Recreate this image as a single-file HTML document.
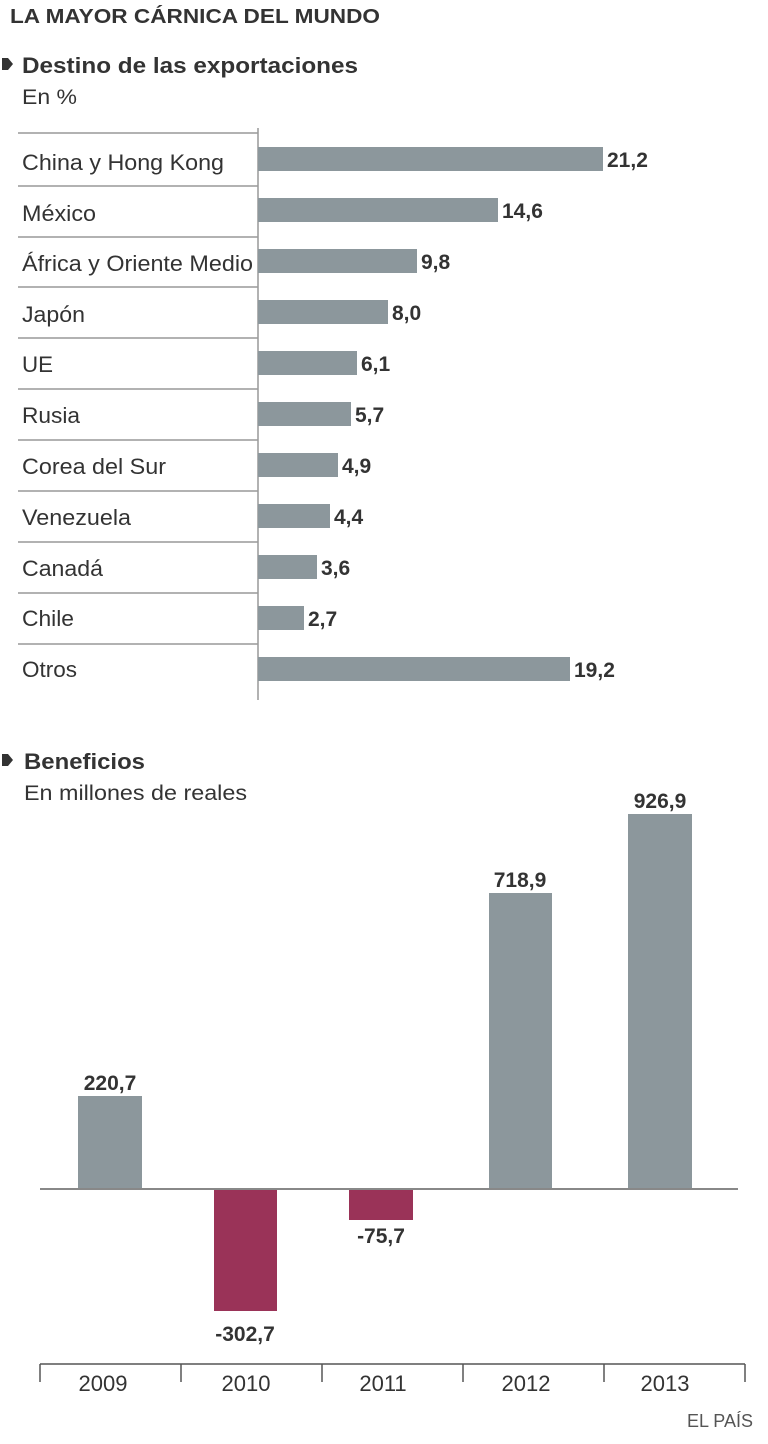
<!DOCTYPE html>
<html><head><meta charset="utf-8"><style>
body{margin:0;background:#fff;width:768px;height:1439px;overflow:hidden;font-family:"Liberation Sans",sans-serif;color:#333}
</style></head><body>
<svg width="768" height="1439" xmlns="http://www.w3.org/2000/svg" font-family="Liberation Sans, sans-serif">
<text x="10" y="23" font-size="20" font-weight="bold" fill="#333" textLength="370" lengthAdjust="spacingAndGlyphs">LA MAYOR CÁRNICA DEL MUNDO</text>
<path d="M2,58 h6 l5,6 l-5,6 h-6 z" fill="#333"/>
<text x="22" y="73" font-size="22" font-weight="bold" fill="#333" textLength="336" lengthAdjust="spacingAndGlyphs">Destino de las exportaciones</text>
<text x="22" y="104" font-size="21" fill="#333" textLength="55" lengthAdjust="spacingAndGlyphs">En %</text>
<g stroke="#999" stroke-width="1.5">
<line x1="18" y1="133" x2="258" y2="133"/>
<line x1="18" y1="186" x2="258" y2="186"/><line x1="18" y1="237" x2="258" y2="237"/>
<line x1="18" y1="287" x2="258" y2="287"/><line x1="18" y1="338" x2="258" y2="338"/>
<line x1="18" y1="389" x2="258" y2="389"/><line x1="18" y1="440" x2="258" y2="440"/>
<line x1="18" y1="491" x2="258" y2="491"/><line x1="18" y1="542" x2="258" y2="542"/>
<line x1="18" y1="593" x2="258" y2="593"/><line x1="18" y1="644" x2="258" y2="644"/>
<line x1="258" y1="128" x2="258" y2="700"/>
</g>
<g fill="#8c979c">
<rect x="258" y="147" width="345" height="24"/>
<rect x="258" y="198" width="240" height="24"/>
<rect x="258" y="249" width="159" height="24"/>
<rect x="258" y="300" width="130" height="24"/>
<rect x="258" y="351" width="99" height="24"/>
<rect x="258" y="402" width="93" height="24"/>
<rect x="258" y="453" width="80" height="24"/>
<rect x="258" y="504" width="72" height="24"/>
<rect x="258" y="555" width="59" height="24"/>
<rect x="258" y="606" width="46" height="24"/>
<rect x="258" y="657" width="312" height="24"/>
</g>
<g font-size="22" fill="#333" lengthAdjust="spacingAndGlyphs">
<text x="22" y="170" textLength="202" lengthAdjust="spacingAndGlyphs">China y Hong Kong</text>
<text x="22" y="221" textLength="74" lengthAdjust="spacingAndGlyphs">México</text>
<text x="22" y="271" textLength="231" lengthAdjust="spacingAndGlyphs">África y Oriente Medio</text>
<text x="22" y="322" textLength="63" lengthAdjust="spacingAndGlyphs">Japón</text>
<text x="22" y="372" textLength="31" lengthAdjust="spacingAndGlyphs">UE</text>
<text x="22" y="423" textLength="58" lengthAdjust="spacingAndGlyphs">Rusia</text>
<text x="22" y="474" textLength="144" lengthAdjust="spacingAndGlyphs">Corea del Sur</text>
<text x="22" y="525" textLength="109" lengthAdjust="spacingAndGlyphs">Venezuela</text>
<text x="22" y="576" textLength="81" lengthAdjust="spacingAndGlyphs">Canadá</text>
<text x="22" y="626" textLength="52" lengthAdjust="spacingAndGlyphs">Chile</text>
<text x="22" y="677" textLength="55" lengthAdjust="spacingAndGlyphs">Otros</text>
</g>
<g font-size="21" font-weight="bold" fill="#333">
<text x="607" y="167">21,2</text>
<text x="502" y="218">14,6</text>
<text x="421" y="269">9,8</text>
<text x="392" y="320">8,0</text>
<text x="361" y="371">6,1</text>
<text x="355" y="422">5,7</text>
<text x="342" y="473">4,9</text>
<text x="334" y="524">4,4</text>
<text x="321" y="575">3,6</text>
<text x="308" y="626">2,7</text>
<text x="574" y="677">19,2</text>
</g>
<path d="M2,754 h6 l5,6 l-5,6 h-6 z" fill="#333"/>
<text x="24" y="769" font-size="22" font-weight="bold" fill="#333" textLength="121" lengthAdjust="spacingAndGlyphs">Beneficios</text>
<text x="24" y="800" font-size="21" fill="#333" textLength="223" lengthAdjust="spacingAndGlyphs">En millones de reales</text>
<g fill="#8c979c">
<rect x="78" y="1096" width="64" height="93"/>
<rect x="489" y="893" width="63" height="296"/>
<rect x="628" y="814" width="64" height="375"/>
</g>
<g fill="#9a3358">
<rect x="214" y="1189" width="63" height="122"/>
<rect x="349" y="1189" width="64" height="31"/>
</g>
<line x1="40" y1="1189" x2="738" y2="1189" stroke="#888" stroke-width="2"/>
<g font-size="21" font-weight="bold" fill="#333" text-anchor="middle">
<text x="110" y="1090">220,7</text>
<text x="245" y="1341">-302,7</text>
<text x="381" y="1243">-75,7</text>
<text x="520" y="887">718,9</text>
<text x="660" y="808">926,9</text>
</g>
<g stroke="#555" stroke-width="1.5">
<line x1="40" y1="1364" x2="745" y2="1364"/>
<line x1="40" y1="1364" x2="40" y2="1382"/><line x1="181" y1="1364" x2="181" y2="1382"/>
<line x1="322" y1="1364" x2="322" y2="1382"/><line x1="463" y1="1364" x2="463" y2="1382"/>
<line x1="604" y1="1364" x2="604" y2="1382"/><line x1="745" y1="1364" x2="745" y2="1382"/>
</g>
<g font-size="22" fill="#333" text-anchor="middle">
<text x="103" y="1391">2009</text><text x="246" y="1391">2010</text>
<text x="383" y="1391">2011</text><text x="526" y="1391">2012</text>
<text x="665" y="1391">2013</text>
</g>
<text x="753" y="1427" font-size="18" fill="#555" text-anchor="end">EL PAÍS</text>
</svg>
</body></html>
